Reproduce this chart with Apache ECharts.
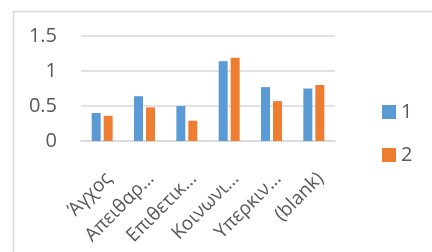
<!DOCTYPE html>
<html>
<head>
<meta charset="utf-8">
<script src="https://cdn.jsdelivr.net/npm/echarts@6/dist/echarts.min.js"></script>
<style>
  html, body { margin: 0; padding: 0; background: #fff; }
  #grafica { width: 432px; height: 252px; }
</style>
</head>
<body>
<div id="grafica"></div>
<script>
const categorias = ["Άγχος", "Απειθαρ…", "Επιθετικ…", "Κοινωνι…", "Υπερκιν…", "(blank)"];
const serie1 = [0.4, 0.64, 0.5, 1.14, 0.77, 0.75];
const serie2 = [0.36, 0.48, 0.29, 1.19, 0.57, 0.8];
const nombresSeries = ["1", "2"];
const ticksY = [0, 0.5, 1, 1.5];

const gris = "#595959";
const fuente = "Open Sans";

const option = {
  animation: false,
  textStyle: { fontFamily: fuente },
  // marco del grafico (como en Excel)
  graphic: [
    {
      type: "rect",
      left: 11,
      top: 9,
      shape: { width: 500, height: 300 },
      style: { fill: "none", stroke: "#d9d9d9", lineWidth: 1.5 },
      silent: true,
    },
  ],
  grid: { left: 81, right: 97, top: 36, bottom: 111, outerBoundsMode: "none" },
  legend: {
    orient: "vertical",
    left: 377,
    top: 97,
    itemWidth: 14,
    itemHeight: 14,
    itemGap: 23,
    icon: "rect",
    textStyle: { fontSize: 20, color: gris, fontFamily: fuente },
    data: nombresSeries,
  },
  xAxis: {
    type: "category",
    data: categorias,
    axisLine: { lineStyle: { color: "#d9d9d9", width: 1.5 } },
    axisTick: { show: false },
    axisLabel: {
      rotate: 45,
      interval: 0,
      margin: 28,
      verticalAlign: "top",
      fontSize: 19,
      color: gris,
      fontFamily: fuente,
    },
  },
  yAxis: {
    type: "value",
    min: ticksY[0],
    max: ticksY[ticksY.length - 1],
    interval: 0.5,
    axisLine: { show: false },
    axisTick: { show: false },
    axisLabel: { fontSize: 20, color: gris, margin: 24, fontFamily: fuente },
    splitLine: { lineStyle: { color: "#d9d9d9", width: 1.5 } },
  },
  series: [
    {
      name: nombresSeries[0],
      type: "bar",
      data: serie1,
      barWidth: 9,
      barGap: "33%",
      itemStyle: { color: "#5b9bd5" },
    },
    {
      name: nombresSeries[1],
      type: "bar",
      data: serie2,
      barWidth: 9,
      itemStyle: { color: "#ed7d31" },
    },
  ],
};

const myChart = echarts.init(document.querySelector("#grafica"));
myChart.setOption(option);
</script>
</body>
</html>
